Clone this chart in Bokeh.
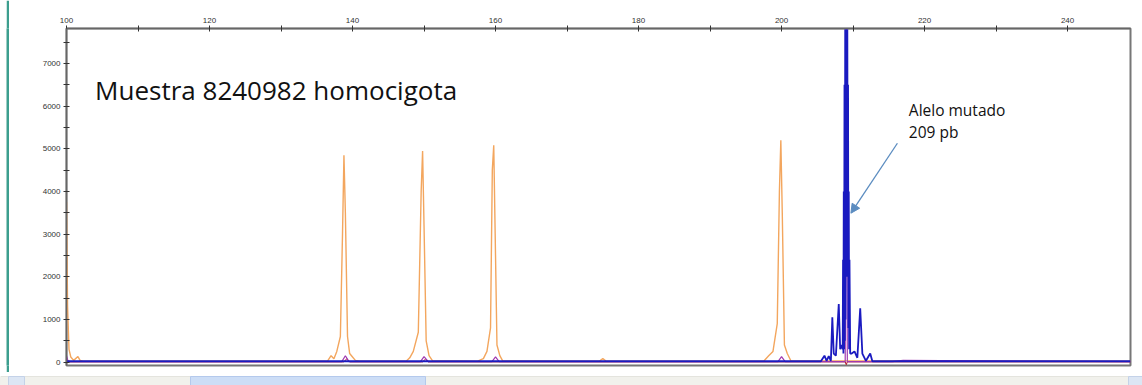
from bokeh.plotting import figure
from bokeh.models import Range1d, FixedTicker, Arrow, NormalHead, Label, Spacer
from bokeh.layouts import row, column
from bokeh.embed import file_html
from bokeh.resources import INLINE

# ---- data ----
x_ticks = [100, 120, 140, 160, 180, 200, 220, 240]
x_minor = [110, 130, 150, 170, 190, 210, 230]
y_ticks = [0, 1000, 2000, 3000, 4000, 5000, 6000, 7000]
y_minor = [500, 1500, 2500, 3500, 4500, 5500, 6500, 7500]

orange_bp = [100.0, 100.15, 100.35, 100.6, 101.0, 101.6, 101.9, 102.3, 103, 136.5, 137.0, 137.4, 137.8, 138.3,
             138.6, 138.8, 139.0, 139.3, 139.6, 140.0, 140.4, 141.0, 147.5, 148.0, 148.5, 149.2, 149.6,
             149.8, 150.0, 150.3, 150.7, 151.2, 157.5, 158.3, 158.8, 159.3, 159.55, 159.75, 159.95,
             160.2, 160.6, 161.0, 174.5, 175.0, 175.5, 197.5, 198.2, 198.8, 199.4, 199.7, 199.9,
             200.1, 200.4, 200.8, 201.3, 248.8]
orange_rfu = [3750, 1300, 300, 120, 40, 130, 40, 20, 20, 20, 150, 80, 250, 600,
              3000, 4850, 3500, 600, 200, 120, 40, 20, 20, 100, 250, 700, 4000,
              4950, 3200, 500, 150, 30, 20, 80, 250, 800, 4500, 5080, 3000,
              400, 150, 30, 20, 80, 20, 20, 150, 250, 900, 4000, 5200,
              3500, 400, 200, 30, 20]

blue_bp = [100.0, 205.5, 206.0, 206.3, 206.6, 206.9, 207.1, 207.3, 207.6, 208.0, 208.2, 208.4,
           208.55, 208.6, 208.65, 208.7, 208.75, 208.8, 208.85, 208.9, 208.95, 209.0, 209.05,
           209.1, 209.15, 209.2, 209.25, 209.3, 209.35, 209.4, 209.45, 209.5, 209.6, 209.8,
           210.2, 210.6, 211.0, 211.3, 211.8, 212.4, 212.7, 248.8]
blue_rfu = [20, 20, 150, 30, 140, 30, 1050, 200, 150, 1360, 300, 400,
            300, 2400, 200, 4000, 300, 6500, 500, 7800, 1000, 7800, 2000,
            7800, 3000, 7800, 2000, 6500, 800, 4000, 300, 2400, 200, 200,
            250, 100, 1260, 200, 30, 200, 20, 20]

purple_bp = [100.0, 100.2, 100.5, 138.5, 139.0, 139.5, 149.5, 150.0, 150.6, 159.5, 160.0, 160.5,
             199.5, 200.0, 200.5, 208.9, 209.05, 209.2, 215.5, 217, 248.8]
purple_rfu = [150, 30, 10, 10, 150, 10, 10, 130, 10, 10, 120, 10,
              10, 130, 10, 10, 7950, 10, 10, 40, 10]

red_bp = [100.0, 138.8, 139.2, 139.6, 149.8, 150.2, 150.6, 208.9, 209.05, 209.2, 248.8]
red_rfu = [5, 5, 80, 5, 5, 70, 5, 5, -60, 5, 5]

# scrollbar decoration (screen pixels)
scroll_track = [0, 1142]
scroll_thumb = [190, 425]

# ---- main figure ----
p = figure(width=1125, height=372, output_backend="svg", toolbar_location=None,
           x_range=Range1d(100, 248.8), y_range=Range1d(-80, 7820),
           x_axis_location="above",
           min_border_left=57, min_border_top=28, min_border_right=4, min_border_bottom=7,
           background_fill_color="white", border_fill_color="white")
p.grid.visible = False
p.outline_line_color = "#777777"
p.outline_line_width = 2

for ax in (p.xaxis[0], p.yaxis[0]):
    ax.axis_line_color = "#666666"
    ax.axis_line_width = 1.5
    ax.major_tick_line_color = "#333333"
    ax.minor_tick_line_color = "#333333"
    ax.major_tick_in = 3
    ax.major_tick_out = 3
    ax.minor_tick_in = 3
    ax.minor_tick_out = 3
    ax.major_label_text_font = "Liberation Sans"
    ax.major_label_text_font_size = "8px"
    ax.major_label_text_color = "#333333"
    ax.major_label_standoff = 3

p.xaxis.ticker = FixedTicker(ticks=x_ticks, minor_ticks=x_minor)
p.yaxis.ticker = FixedTicker(ticks=y_ticks, minor_ticks=y_minor)

p.line(orange_bp, orange_rfu, line_color="#F3A65E", line_width=1.4)
p.line(red_bp, red_rfu, line_color="#B01020", line_width=1)
p.line(purple_bp, purple_rfu, line_color="#A03AB0", line_width=1.2)
p.line(blue_bp, blue_rfu, line_color="#1A1AC0", line_width=1.8)

p.add_layout(Label(x=104.0, y=6370, text="Muestra 8240982 homocigota", text_font="Open Sans",
                   text_font_size="26px", text_color="#111111", text_baseline="middle"))
p.add_layout(Label(x=217.8, y=5900, text="Alelo mutado", text_font="Open Sans",
                   text_font_size="15.5px", text_color="#111111", text_baseline="middle"))
p.add_layout(Label(x=217.8, y=5400, text="209 pb", text_font="Open Sans",
                   text_font_size="15.5px", text_color="#111111", text_baseline="middle"))
p.add_layout(Arrow(x_start=216.2, y_start=5130, x_end=209.7, y_end=3490,
                   line_color="#5B8CC0", line_width=1.3,
                   end=NormalHead(size=9, fill_color="#5B8CC0", line_color="#5B8CC0")))

# ---- teal window edge ----
edge = figure(width=3, height=372, output_backend="svg", toolbar_location=None,
              min_border=0, background_fill_color="#3C9E8E", border_fill_color="#3C9E8E",
              outline_line_color=None, x_range=Range1d(0, 1), y_range=Range1d(0, 1))
edge.axis.visible = False
edge.grid.visible = False
edge.scatter([0.5], [0.5], size=0, alpha=0)

# ---- scrollbar strip ----
sb = figure(width=1142, height=13, output_backend="svg", toolbar_location=None,
            min_border=0, x_range=Range1d(0, 1142), y_range=Range1d(0, 13),
            outline_line_color=None, background_fill_color="white", border_fill_color="white")
sb.axis.visible = False
sb.grid.visible = False
sb.quad(left=[scroll_track[0]], right=[scroll_track[1]], bottom=[0], top=[9],
        fill_color="#F1F1EC", line_color="#E4E4DE")
sb.quad(left=[scroll_thumb[0]], right=[scroll_thumb[1]], bottom=[0], top=[9],
        fill_color="#CCDDF6", line_color="#B4C9EC")
sb.quad(left=[8], right=[24], bottom=[0], top=[9], fill_color="#DCE6F4", line_color="#C4D2E8")
sb.quad(left=[1128], right=[1142], bottom=[0], top=[9], fill_color="#DCE6F4", line_color="#C4D2E8")

layout = column(row(Spacer(width=6, height=372), edge, p), sb)

open("out.html", "w").write(file_html(layout, INLINE))
